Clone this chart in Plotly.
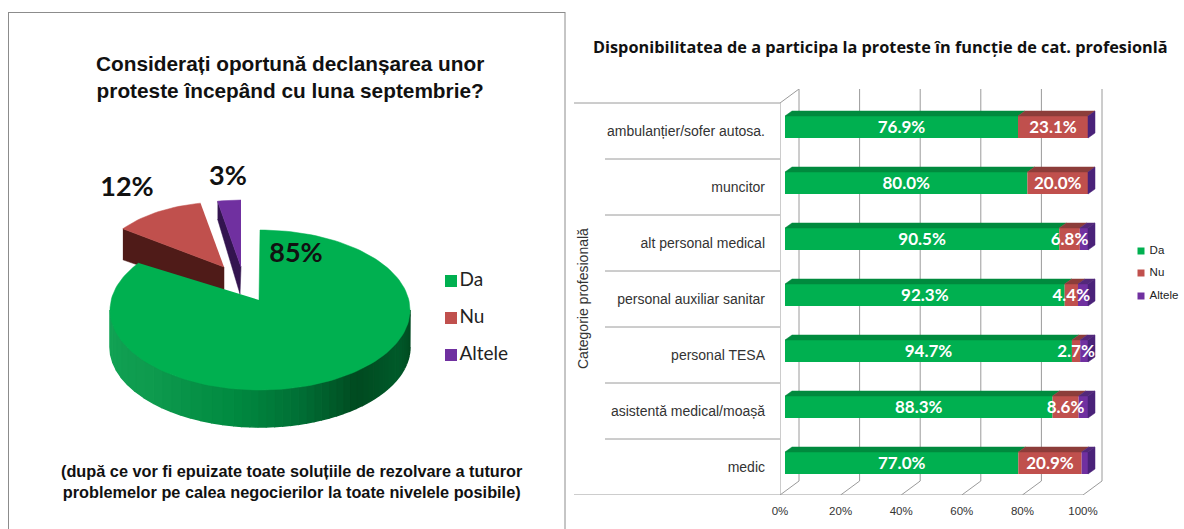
import math
import plotly.graph_objects as go

# ---- data ----
pie_names = ["Da", "Nu", "Altele"]
pie_values = [85, 12, 3]
categories = ["ambulanțier/sofer autosa.", "muncitor", "alt personal medical",
              "personal auxiliar sanitar", "personal TESA",
              "asistentă medical/moașă", "medic"]
da_values = [76.9, 80.0, 90.5, 92.3, 94.7, 88.3, 77.0]
nu_values = [23.1, 20.0, 6.8, 4.4, 2.7, 8.6, 20.9]
altele_values = [0.0, 0.0, 2.7, 3.3, 2.6, 3.1, 2.1]
x_ticks = [0, 20, 40, 60, 80, 100]
pie_title = "Considerați oportună declanșarea unor<br>proteste începând cu luna septembrie?"
pie_note = "(după ce vor fi epuizate toate soluțiile de rezolvare a tuturor<br>problemelor pe calea negocierilor la toate nivelele posibile)"
bar_title = "Disponibilitatea de a participa la proteste în funcție de cat. profesionlă"
y_title = "Categorie profesională"

# ---- style ----
W, H = 1184, 529
GREEN, RED, PURPLE = "#00B050", "#C0504D", "#7030A0"
GREEN_TOP, RED_TOP, PURPLE_TOP = "#008A3E", "#8C3D3A", "#53287A"
PURPLE_SIDE = "#4A2279"
GRID = "#9A9A9A"

fig = go.Figure()
shapes, annotations = [], []


def poly(pts, color, xa="x", ya="y", lw=0.5):
    xs = [p[0] if p else None for p in pts]
    ys = [p[1] if p else None for p in pts]
    fig.add_trace(go.Scatter(x=xs, y=ys, xaxis=xa, yaxis=ya, mode="lines", fill="toself",
                             fillcolor=color, line=dict(width=lw, color=color),
                             hoverinfo="skip", showlegend=False))


def hexmix(c1, c2, t):
    a = [int(c1[i:i + 2], 16) for i in (1, 3, 5)]
    b = [int(c2[i:i + 2], 16) for i in (1, 3, 5)]
    return "#%02X%02X%02X" % tuple(round(u + (v - u) * t) for u, v in zip(a, b))


# ---- left panel: exploded, tilted pie on a hidden pixel-scaled axis ----
total = sum(pie_values)
edges = [0]
for v in pie_values:
    edges.append(edges[-1] + v / total * 360)


def rim(cx, cy, a, b, deg):
    r = math.radians(deg)
    return (cx + a * math.sin(r), cy - b * math.cos(r))


def sector(ax, ay, cx, cy, a, b, d0, d1):
    n = max(4, int((d1 - d0) / 2))
    return [(ax, ay)] + [rim(cx, cy, a, b, d0 + (d1 - d0) * i / n) for i in range(n + 1)]


# red slice
ax, ay = 224, 267
p0 = rim(ax, ay, 125, 65, edges[1])
poly([p0, (ax, ay), (ax, ay + 28), (p0[0], p0[1] + 31)], "#4F1B18")
poly(sector(ax, ay, ax, ay, 125, 65, edges[1], edges[2]), RED)
# purple slice
ax, ay = 241, 267
p0 = rim(ax, ay, 125, 67, edges[2])
poly([p0, (ax, ay), (ax - 1, ay + 27), (p0[0], p0[1] + 18)], "#33144F")
poly(sector(ax, ay, ax, ay, 125, 67, edges[2], edges[3]), PURPLE)
# green slice: wall facets then top
cx, cy, a, b, depth = 260, 310, 150, 80, 37
stops = [(90, "#00471F"), (115, "#005A2A"), (140, "#004A20"), (165, "#006F35"),
         (190, "#008A40"), (225, "#0E9A4E"), (270, "#12A455")]
for i in range(len(stops) - 1):
    d0, c0 = stops[i]
    d1, c1 = stops[i + 1]
    n = 8
    for k in range(n):
        u0 = d0 + (d1 - d0) * k / n
        u1 = d0 + (d1 - d0) * (k + 1) / n
        top = [rim(cx, cy, a, b, u0 + (u1 - u0) * j / 3) for j in range(4)]
        bot = [(x, y + depth) for x, y in reversed(top)]
        poly(top + bot, hexmix(c0, c1, (k + .5) / n), lw=1.5)
poly(sector(259, 300, cx, cy, a, b, edges[0], edges[1]), GREEN)

# pie value labels
pie_lab_xy = [(296, 255), (127, 189), (228, 178)]
fig.add_trace(go.Scatter(x=[p[0] for p in pie_lab_xy], y=[p[1] for p in pie_lab_xy],
                         text=[f"{v}%" for v in pie_values], mode="text",
                         textfont=dict(family="Lato", size=27, color="#111111", weight="bold"),
                         hoverinfo="skip", showlegend=False))
# pie legend
fig.add_trace(go.Scatter(x=[451] * 3, y=[281, 318, 355], text=pie_names, mode="markers+text",
                         textposition="middle right",
                         marker=dict(symbol="square", size=12, color=[GREEN, RED, PURPLE]),
                         textfont=dict(family="Lato", size=19, color="#222222"),
                         hoverinfo="skip", showlegend=False))
# bar legend
fig.add_trace(go.Scatter(x=[1141] * 3, y=[251, 273, 296], text=["\u00a0" + n for n in pie_names],
                         mode="markers+text", textposition="middle right",
                         marker=dict(symbol="square", size=7, color=[GREEN, RED, PURPLE]),
                         textfont=dict(family="Liberation Sans", size=11.5, color="#222222"),
                         hoverinfo="skip", showlegend=False))

# ---- right panel ----
ys = [len(categories) - 1 - i for i in range(len(categories))]
PXX = 3.03          # pixels per percent
PXY = 56.0          # pixels per category
OFF_X, OFF_Y = 5 / PXX, 4 / PXY      # bar front offset from the front plane
BAR_DX, BAR_DY = 7 / PXX, 5 / PXY    # bar depth
BAR_H = 22 / PXY
WALL_DX, WALL_DY = 19 / PXX, 14 / PXY
LABEL_NUDGE = 2 / PXY

series = [("Da", da_values, GREEN, GREEN_TOP),
          ("Nu", nu_values, RED, RED_TOP),
          ("Altele", altele_values, PURPLE, PURPLE_TOP)]
cum = [OFF_X] * len(ys)
tops, labels = [], ([], [], [])
for name, vals, col, topcol in series:
    fig.add_trace(go.Bar(y=[yy + OFF_Y for yy in ys], x=vals, base=list(cum), orientation="h",
                         width=BAR_H, marker=dict(color=col, line=dict(width=0)), name=name,
                         xaxis="x2", yaxis="y2", showlegend=False, hoverinfo="skip"))
    pts = []
    for i, (yy, v) in enumerate(zip(ys, vals)):
        y1 = yy + OFF_Y + BAR_H / 2
        if v > 0:
            pts += [(cum[i], y1), (cum[i] + v, y1), (cum[i] + v + BAR_DX, y1 + BAR_DY),
                    (cum[i] + BAR_DX, y1 + BAR_DY), (cum[i], y1), None]
            if name != "Altele":
                labels[0].append(cum[i] + v / 2)
                labels[1].append(yy + OFF_Y - LABEL_NUDGE)
                labels[2].append(f"{v:.1f}%")
        cum[i] += v
    tops.append((pts, topcol))
for pts, c in tops:
    poly(pts[:-1], c, "x2", "y2")
side = []
for i, yy in enumerate(ys):
    y0 = yy + OFF_Y - BAR_H / 2
    y1 = yy + OFF_Y + BAR_H / 2
    e = cum[i]
    side += [(e, y0), (e, y1), (e + BAR_DX, y1 + BAR_DY), (e + BAR_DX, y0 + BAR_DY), (e, y0), None]
poly(side[:-1], PURPLE_SIDE, "x2", "y2")
fig.add_trace(go.Scatter(x=labels[0], y=labels[1], text=labels[2], mode="text", xaxis="x2", yaxis="y2",
                         textfont=dict(family="Lato", size=17, color="#FFFFFF", weight="bold"),
                         hoverinfo="skip", showlegend=False, cliponaxis=False))


def line(x0, y0, x1, y1, xref="x2", yref="y2", color=GRID, width=1):
    shapes.append(dict(type="line", x0=x0, y0=y0, x1=x1, y1=y1, xref=xref, yref=yref,
                       layer="below", line=dict(color=color, width=width)))


y_lo, y_hi = -0.5, len(ys) - 0.5
for t in x_ticks:
    line(t + WALL_DX, y_lo + WALL_DY, t + WALL_DX, y_hi + WALL_DY)
    line(t, y_lo, t + WALL_DX, y_lo + WALL_DY)
line(0, y_lo, 0, y_hi)
line(0, y_hi, WALL_DX, y_hi + WALL_DY)
line(0, y_lo, x_ticks[-1], y_lo)
for k in range(len(ys) + 1):
    edge = k in (0, len(ys))
    line(574 if edge else 605, y_lo + k, 780, y_lo + k, xref="x", yref="y2")

# panel border of the left chart
for x0, y0, x1, y1 in [(8.5, 12, 8.5, 529), (8, 12.5, 565, 12.5), (565, 12, 565, 529)]:
    line(x0, y0, x1, y1, xref="x", yref="y", color="#8C8C8C", width=1)


def note(x, y, text, size, family="Liberation Sans", bold=True, color="#111111", angle=0):
    weight = "bold" if bold else "normal"
    annotations.append(dict(x=x, y=y, xref="x", yref="y", text=text, showarrow=False, textangle=angle,
                            align="center", font=dict(family=family, size=size, color=color, weight=weight)))


note(290, 77, pie_title, 20.8)
note(292, 481, pie_note, 16.3)
note(880, 47, bar_title, 16.3, family="Open Sans")
note(583, 299, y_title, 14, bold=False, color="#333333", angle=-90)

fig.update_layout(
    width=W, height=H, margin=dict(l=0, r=0, t=0, b=0, autoexpand=False), paper_bgcolor="white",
    plot_bgcolor="rgba(0,0,0,0)",
    showlegend=False, barmode="overlay", shapes=shapes, annotations=annotations,
    xaxis=dict(domain=[0, 1], range=[0, W], visible=False, fixedrange=True),
    yaxis=dict(domain=[0, 1], range=[H, 0], visible=False, fixedrange=True),
    xaxis2=dict(domain=[780 / W, 1110 / W], range=[0, 330 / PXX], tickvals=x_ticks,
                ticktext=[f"{t}%" for t in x_ticks], showgrid=False, zeroline=False, showline=False,
                ticks="", ticklabelstandoff=7, tickfont=dict(family="Liberation Sans", size=11.5, color="#333333"),
                anchor="y2", fixedrange=True),
    yaxis2=dict(domain=[34 / H, 440 / H], range=[-0.5, 6.75], tickvals=ys, ticktext=categories,
                showgrid=False, zeroline=False, showline=False, ticks="", ticklabelstandoff=14,
                tickfont=dict(family="Liberation Sans", size=14, color="#333333"),
                anchor="x2", fixedrange=True),
)
fig.write_html("out.html", config=dict(displayModeBar=False),
               post_script="document.documentElement.style.margin='0';document.body.style.margin='0';"
                           "document.body.style.padding='0';document.body.style.overflow='hidden';")
